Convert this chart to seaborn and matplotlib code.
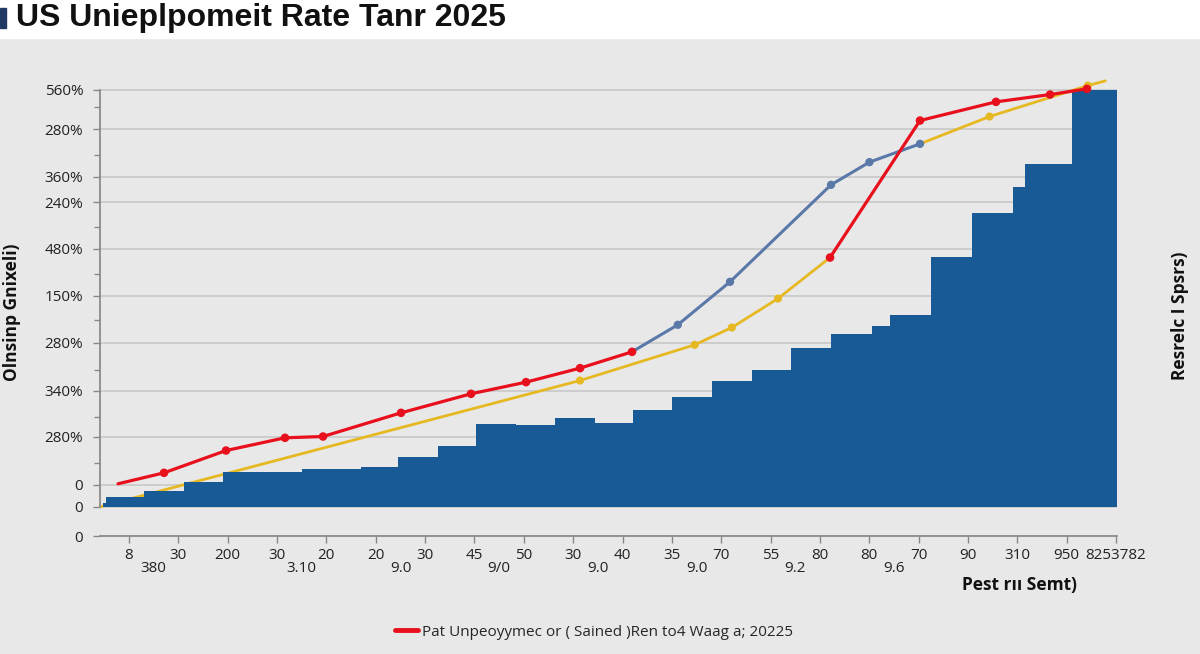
#!/bin/env python3
import matplotlib
matplotlib.use('Agg')
import matplotlib.pyplot as plt
import numpy as np
import pandas as pd
import seaborn as sns
from matplotlib.lines import Line2D
from matplotlib.patches import Rectangle

sns.set_theme(style='white')
plt.rcParams['font.family'] = ['Open Sans', 'DejaVu Sans']
plt.rcParams['axes.unicode_minus'] = False

# x is measured in tick steps (0 = first tick), y on a 0-100 scale (100 = top gridline)
bar_edges = [-0.537, -0.466, 0.304, 1.106, 1.905, 2.736, 3.506, 4.701, 5.451, 6.251,
             7.040, 7.842, 8.632, 9.443, 10.213, 11.003, 11.814, 12.614, 13.414,
             14.225, 15.056, 15.420, 16.243, 17.082, 17.913, 18.156, 19.108, 20.012]
bar_heights = [0.96, 2.40, 3.76, 6.07, 8.39, 8.23, 9.18, 9.52, 11.99, 14.70, 19.98,
               19.59, 21.18, 20.07, 23.14, 26.45, 30.22, 32.78, 38.20, 41.41, 43.41,
               46.04, 59.88, 70.58, 76.67, 82.25, 100.0]

red_x = [-0.223, 0.709, 1.966, 3.161, 3.931, 5.512, 6.930, 8.045, 9.139, 10.193,
         14.205, 16.028, 17.568, 18.663, 19.412]
red_y = [5.52, 8.15, 13.50, 16.55, 16.86, 22.54, 27.10, 29.90, 33.26, 37.17,
         59.78, 92.64, 97.12, 98.87, 100.24]
red_seg = [0, 0, 0, 0, 0, 0, 0, 0, 0, 0, 1, 1, 1, 1, 1]

blue_x = [10.193, 11.120, 12.178, 14.225, 15.003, 16.028]
blue_y = [37.17, 43.65, 53.96, 77.22, 82.66, 87.05]

yellow_x = [-0.588, 9.139, 11.463, 12.215, 13.151, 14.205, 16.028, 17.437, 19.429, 19.785]
yellow_y = [0.0, 30.29, 38.85, 43.00, 49.95, 59.78, 87.05, 93.60, 101.03, 102.16]
yellow_seg = [0, 0, 0, 0, 0, 0, 1, 1, 1, 1]
yellow_marked = [1, 2, 3, 4, 7, 8]

y_ticks = [100.0, 90.6, 79.1, 73.1, 61.9, 50.6, 39.3, 27.8, 16.8, 5.3, 0.0, -7.0]
y_labels = ['560%', '280%', '360%', '240%', '480%', '150%', '280%', '340%', '280%',
            '0', '0', '0']
y_minor = [95.9, 84.4, 67.1, 55.9, 44.8, 32.9, 21.6, 10.6]

x_labels = ['8', '30', '200', '30', '20', '20', '30', '45', '50', '30', '40', '35',
            '70', '55', '80', '80', '70', '90', '310', '950', '8253782']
x_sub_pos = [0.5, 3.5, 5.5, 7.5, 9.5, 11.5, 13.5, 15.5]
x_sub_labels = ['380', '3.10', '9.0', '9/0', '9.0', '9.0', '9.2', '9.6']

BG = '#e8e8e8'
BAR = '#175a96'
RED = '#e8101c'
BLUE = '#5a78a8'
YELLOW = '#e6b822'


def main():
    fig = plt.figure(figsize=(12, 6.54), dpi=100, facecolor=BG)
    fig.patches.append(Rectangle((0, 1 - 38 / 654), 1, 38 / 654, transform=fig.transFigure,
                                 color='white', zorder=0))
    fig.patches.append(Rectangle((0, 1 - 28 / 654), 6 / 1200, 20 / 654, transform=fig.transFigure,
                                 color='#1f3864', zorder=1))
    fig.text(16 / 1200, 1 - 18 / 654, 'US Unieplpomeit Rate Tanr 2025', fontsize=23,
             fontweight='bold', family=['Liberation Sans', 'DejaVu Sans'], va='center',
             color='#111111')

    ax = fig.add_axes([100 / 1200, 1 - 536 / 654, 1017 / 1200, 467 / 654])
    ax.set_facecolor(BG)

    ax.stairs(bar_heights, bar_edges, fill=True, color=BAR, zorder=2)

    ydf = pd.DataFrame({'x': yellow_x, 'y': yellow_y, 'seg': yellow_seg})
    sns.lineplot(data=ydf, x='x', y='y', units='seg', estimator=None, sort=False,
                 color=YELLOW, lw=2.0, ax=ax, zorder=1.5)
    sns.scatterplot(x=[yellow_x[i] for i in yellow_marked], y=[yellow_y[i] for i in yellow_marked],
                    color=YELLOW, s=34, edgecolor='none', ax=ax, zorder=1.6)

    sns.lineplot(x=blue_x, y=blue_y, sort=False, color=BLUE, lw=2.2, ax=ax, zorder=3)
    sns.scatterplot(x=blue_x[1:], y=blue_y[1:], color=BLUE, s=36, edgecolor='none', ax=ax, zorder=3.1)

    rdf = pd.DataFrame({'x': red_x, 'y': red_y, 'seg': red_seg})
    sns.lineplot(data=rdf, x='x', y='y', units='seg', estimator=None, sort=False,
                 color=RED, lw=2.3, ax=ax, zorder=4)
    sns.scatterplot(x=red_x[1:], y=red_y[1:], color=RED, s=38, edgecolor='none', ax=ax, zorder=4.1)

    ax.set_xlim(-0.588, 20.02)
    ax.set_ylim(-7.0, 105.0)

    ax.set_yticks(y_ticks, labels=y_labels)
    ax.set_yticks(y_minor, minor=True)
    ax.set_xticks(range(len(x_labels)), labels=x_labels)
    ax.set_xticks(x_sub_pos, labels=x_sub_labels, minor=True)

    ax.tick_params(axis='y', which='major', length=5, width=1, color='#888888', pad=7,
                   labelsize=11, labelcolor='#222222', left=True)
    ax.tick_params(axis='y', which='minor', length=4, width=1, color='#888888', left=True)
    ax.tick_params(axis='x', which='major', length=5, width=1, color='#888888', pad=3.5,
                   labelsize=11, labelcolor='#222222', bottom=True)
    ax.tick_params(axis='x', which='minor', length=0, pad=18, labelsize=11,
                   labelcolor='#222222', bottom=True)

    ax.grid(axis='y', which='major', color='#c8c8c8', lw=1.2)
    ax.set_axisbelow(True)

    for side in ['top', 'right']:
        ax.spines[side].set_visible(False)
    ax.spines['left'].set_bounds(0, 100)
    ax.spines['left'].set_color('#888888')
    ax.spines['bottom'].set_color('#888888')
    ax.set_xlabel('')
    ax.set_ylabel('')

    fig.text(12 / 1200, 1 - 312 / 654, 'Olnsinp Gnixeli)', rotation=90, fontsize=12.5,
             fontweight='bold', ha='center', va='center', color='#111111')
    fig.text(1180 / 1200, 1 - 316 / 654, 'Resrelc I Spsrs)', rotation=90, fontsize=12.5,
             fontweight='bold', ha='center', va='center', color='#111111')
    fig.text(1020 / 1200, 1 - 585 / 654, 'Pest rıı Semt)', fontsize=12.5, fontweight='bold',
             ha='center', va='center', color='#111111')

    handle = Line2D([], [], color=RED, lw=3.5)
    fig.legend(handles=[handle], labels=['Pat Unpeoyymec or ( Sained )Ren to4 Waag a; 20225'],
               loc='center', bbox_to_anchor=(594 / 1200, 1 - 632 / 654), frameon=False,
               fontsize=11, handlelength=1.5, handletextpad=0.3)

    fig.savefig('out.png', dpi=100, facecolor=BG)


if __name__ == '__main__':
    plt.ioff()
    main()
